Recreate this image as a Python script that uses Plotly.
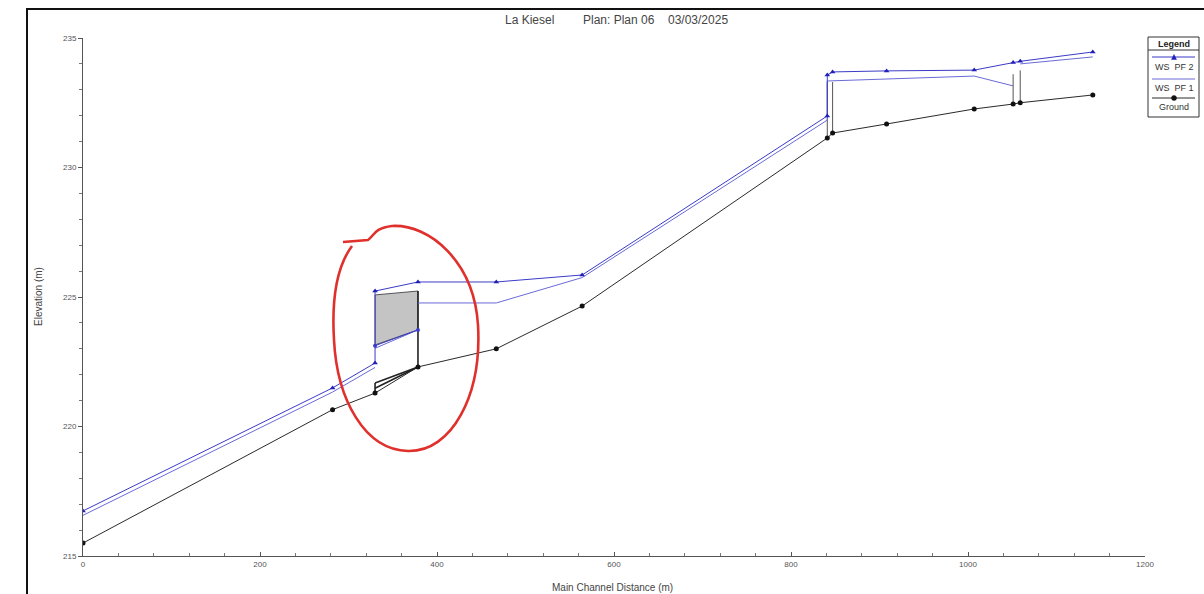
import plotly.graph_objects as go

# ---- profile data (station in m, elevation in m) ----
ground_x = [0, 282, 330, 378.5, 467, 564, 841, 847, 908, 1007, 1051, 1059, 1141]
ground_y = [215.5, 220.65, 221.29, 222.3, 223.0, 224.65, 231.14, 231.33, 231.68, 232.26, 232.45, 232.5, 232.8]

pf2_x = [0, 282, 330, 330, 378.5, 467, 564, 841, 841, 847, 908, 1007, 1051, 1059, 1141]
pf2_y = [216.74, 221.49, 222.45, 225.23, 225.58, 225.58, 225.85, 231.99, 233.57, 233.69, 233.73, 233.76, 234.05, 234.1, 234.46]

pf1_x = [0, 282, 330, None, 378.5, 467, 564, 841, 841, 1007, 1051, None, 1059, 1141]
pf1_y = [216.57, 221.33, 222.28, None, 224.77, 224.77, 225.75, 231.83, 233.34, 233.53, 233.15, None, 234.0, 234.27]

# water surface through the bridge opening
bridge_ws_x = [330, 378.5]
bridge_pf2_y = [223.12, 223.73]
bridge_pf1_y = [223.02, 223.73]

# bridge deck outline (upstream/downstream faces)
deck_x = [330, 378.5, 378.5, 330]
deck_y = [225.08, 225.23, 223.73, 223.15]
low_chord_y = [221.68, 222.3]

# inline structures: station pairs, top elevations
weir1_x = [841, 847]
weir1_top = [233.3, 233.3]
weir2_x = [1051, 1059]
weir2_top = [233.6, 233.75]

title_parts = ["La Kiesel", "Plan: Plan 06", "03/03/2025"]
legend_names = ["WS  PF 2", "WS  PF 1", "Ground"]

W, H = 1204, 594
L, R, T, B = 83, 1145, 38, 556


def P(px, py):
    """pixel position on the page -> paper coordinates"""
    return (px - L) / (R - L), (B - py) / (B - T)


BLUE2 = "#3b3bc8"
BLUE1 = "#6a6ad8"
BLK = "#2a2a2a"
FONT = "Arial, Liberation Sans, sans-serif"

fig = go.Figure()

# bridge deck (filled)
fig.add_trace(go.Scatter(x=deck_x + [deck_x[0]], y=deck_y + [deck_y[0]], mode="lines",
                         fill="toself", fillcolor="#c4c4c4",
                         line=dict(color="#555555", width=1), hoverinfo="skip", showlegend=False))
# bridge faces and low chord
fig.add_trace(go.Scatter(x=[378.5, 378.5, None, 330, 330, None, 330, 378.5, None, 330, 378.5],
                         y=[ground_y[3], deck_y[1], None, ground_y[2], low_chord_y[0], None,
                            low_chord_y[0], low_chord_y[1], None, low_chord_y[0] - 0.2, low_chord_y[1]],
                         mode="lines", line=dict(color="#222222", width=1.6),
                         hoverinfo="skip", showlegend=False))
# inline structures
for sx, top, gi in ((weir1_x, weir1_top, 6), (weir2_x, weir2_top, 10)):
    fig.add_trace(go.Scatter(x=[sx[0], sx[0], None, sx[1], sx[1]],
                             y=[ground_y[gi], top[0], None, ground_y[gi + 1], top[1]],
                             mode="lines", line=dict(color="#555555", width=1),
                             hoverinfo="skip", showlegend=False))

# water surfaces inside the bridge
fig.add_trace(go.Scatter(x=bridge_ws_x, y=bridge_pf1_y, mode="lines",
                         line=dict(color=BLUE1, width=1), hoverinfo="skip", showlegend=False))
fig.add_trace(go.Scatter(x=bridge_ws_x, y=bridge_pf2_y, mode="lines+markers",
                         line=dict(color=BLUE2, width=1),
                         marker=dict(symbol="circle", size=4, color=BLUE2),
                         hoverinfo="skip", showlegend=False))

# profiles
fig.add_trace(go.Scatter(x=ground_x, y=ground_y, mode="lines+markers", name="Ground",
                         line=dict(color=BLK, width=1),
                         marker=dict(symbol="circle", size=5, color="#111111"), showlegend=False))
fig.add_trace(go.Scatter(x=pf1_x, y=pf1_y, mode="lines", name="WS PF 1",
                         line=dict(color=BLUE1, width=1), connectgaps=False, showlegend=False))
fig.add_trace(go.Scatter(x=pf2_x, y=pf2_y, mode="lines+markers", name="WS PF 2",
                         line=dict(color=BLUE2, width=1),
                         marker=dict(symbol="triangle-up", size=5, color="#2020b8"), showlegend=False))

shapes = []
annotations = []


def label(px, py, text, size, color="#444", xanchor="center", **kw):
    ax, ay = P(px, py)
    annotations.append(dict(x=ax, y=ay, xref="paper", yref="paper", text=text, showarrow=False,
                            xanchor=xanchor, yanchor="middle",
                            font=dict(size=size, color=color, family=FONT), **kw))


# outer frame
x0, y0 = P(27, 9)
x1, y1 = P(1215, 605)
shapes.append(dict(type="rect", xref="paper", yref="paper", x0=x0, y0=y1, x1=x1, y1=y0,
                   line=dict(color="#111111", width=2), fillcolor="rgba(0,0,0,0)", layer="below"))

# hand-drawn marker loop around the bridge
loop = [("M", [(343, 242)]), ("L", [(368, 240)]),
        ("C", [(374, 236), (374, 228), (392, 226)]),
        ("C", [(430, 224), (474, 262), (478, 325)]),
        ("C", [(482, 395), (452, 452), (408, 451)]),
        ("C", [(365, 450), (337, 400), (334, 340)]),
        ("C", [(331, 290), (340, 262), (352, 246)])]
path = ""
for cmd, pts in loop:
    path += cmd + " " + " ".join("%.5f,%.5f" % P(*p) for p in pts) + " "
shapes.append(dict(type="path", xref="paper", yref="paper", path=path.strip(),
                   line=dict(color="#e0302c", width=2.6)))

# legend box
lx0, ly0 = P(1148, 37)
lx1, ly1 = P(1199, 117)
shapes.append(dict(type="rect", xref="paper", yref="paper", x0=lx0, y0=ly1, x1=lx1, y1=ly0,
                   line=dict(color="#333333", width=1), fillcolor="white"))
_, hy = P(1148, 50)
shapes.append(dict(type="line", xref="paper", yref="paper", x0=lx0, x1=lx1, y0=hy, y1=hy,
                   line=dict(color="#333333", width=1)))
label(1174, 43.5, "<b>Legend</b>", 9, "#222")
samples = [(57, BLUE2, "tri"), (79, BLUE1, None), (98, BLK, "dot")]
label_y = [67, 88, 107]
for (sy, col, mk), name, ly in zip(samples, legend_names, label_y):
    a, yy = P(1152, sy)
    b, _ = P(1195, sy)
    shapes.append(dict(type="line", xref="paper", yref="paper", x0=a, x1=b, y0=yy, y1=yy,
                       line=dict(color=col, width=1)))
    if mk == "tri":
        p1, p2, p3 = P(1171.5, sy + 2.5), P(1176.5, sy + 2.5), P(1174, sy - 2.5)
        shapes.append(dict(type="path", xref="paper", yref="paper",
                           path="M %f,%f L %f,%f L %f,%f Z" % (*p1, *p2, *p3),
                           fillcolor="#2020b8", line=dict(color="#2020b8", width=0.5)))
    elif mk == "dot":
        c0 = P(1171.5, sy - 2.5)
        c1 = P(1176.5, sy + 2.5)
        shapes.append(dict(type="circle", xref="paper", yref="paper",
                           x0=c0[0], x1=c1[0], y0=c1[1], y1=c0[1],
                           fillcolor="#111", line=dict(color="#111", width=0.5)))
    label(1174, ly, name, 9, "#333")

# title pieces
for text, px in zip(title_parts, [503, 581, 666]):
    label(px, 20, text, 12, "#444", xanchor="left")

# axis titles
label(612, 587, "Main Channel Distance (m)", 10)
label(38, 297, "Elevation (m)", 10, textangle=-90)

fig.update_layout(
    width=W, height=H,
    margin=dict(l=L, r=W - R, t=T, b=H - B, pad=0),
    paper_bgcolor="white", plot_bgcolor="white",
    showlegend=False,
    shapes=shapes, annotations=annotations,
    font=dict(family=FONT),
    xaxis=dict(range=[0, 1200], tickvals=[0, 200, 400, 600, 800, 1000, 1200],
               showgrid=False, zeroline=False, showline=True, linecolor="#555", linewidth=1,
               ticks="inside", ticklen=4, tickcolor="#555",
               minor=dict(dtick=40, ticks="inside", ticklen=3, tickcolor="#777", showgrid=False),
               tickfont=dict(size=8, color="#555", family=FONT), fixedrange=True),
    yaxis=dict(range=[215, 235], tickvals=[215, 220, 225, 230, 235],
               showgrid=False, zeroline=False, showline=True, linecolor="#555", linewidth=1,
               ticks="outside", ticklen=4, tickcolor="#555",
               minor=dict(dtick=1, ticks="outside", ticklen=3, tickcolor="#777", showgrid=False),
               tickfont=dict(size=8, color="#555", family=FONT), fixedrange=True),
)

fig.write_html("out.html")
